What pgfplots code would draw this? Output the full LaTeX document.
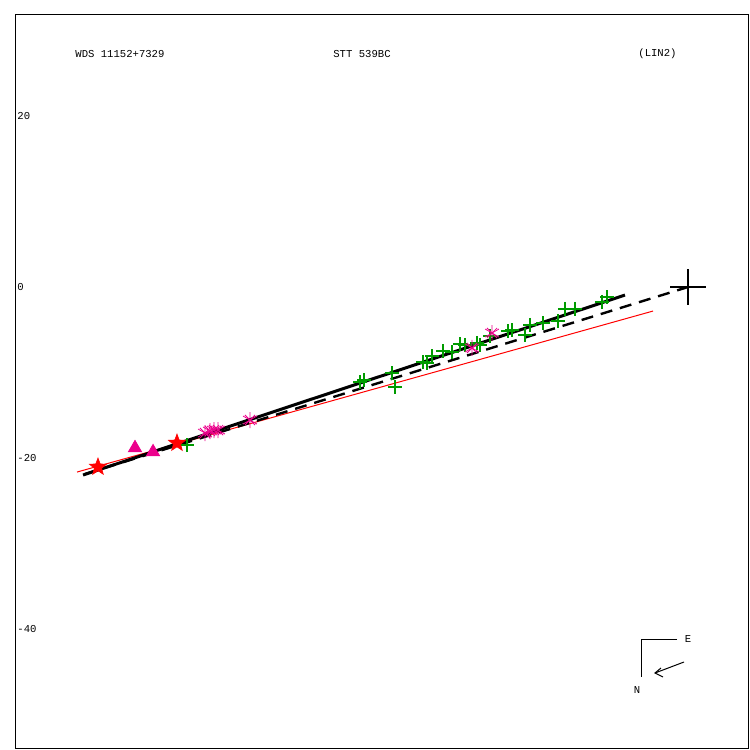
\documentclass[border=0pt]{standalone}
\usepackage{pgfplots}
\pgfplotsset{compat=1.18}
\usepackage{fontspec}
\setmonofont{Liberation Mono}
\newcommand{\lbl}{\ttfamily\fontsize{5.3}{6}\selectfont}
\definecolor{mygreen}{RGB}{0,155,0}
\pgfdeclareplotmark{fstar}{%
  \pgfpathmoveto{\pgfpointpolar{90}{\pgfplotmarksize}}%
  \pgfpathlineto{\pgfpointpolar{126}{0.42\pgfplotmarksize}}%
  \pgfpathlineto{\pgfpointpolar{162}{\pgfplotmarksize}}%
  \pgfpathlineto{\pgfpointpolar{198}{0.42\pgfplotmarksize}}%
  \pgfpathlineto{\pgfpointpolar{234}{\pgfplotmarksize}}%
  \pgfpathlineto{\pgfpointpolar{270}{0.42\pgfplotmarksize}}%
  \pgfpathlineto{\pgfpointpolar{306}{\pgfplotmarksize}}%
  \pgfpathlineto{\pgfpointpolar{342}{0.42\pgfplotmarksize}}%
  \pgfpathlineto{\pgfpointpolar{18}{\pgfplotmarksize}}%
  \pgfpathlineto{\pgfpointpolar{54}{0.42\pgfplotmarksize}}%
  \pgfpathclose
  \pgfusepathqfillstroke}
\begin{document}
\begin{tikzpicture}
\begin{axis}[x=4.275pt, y=4.275pt, scale only axis,
  xmin=-78.71, xmax=7.13, ymin=-53.92, ymax=31.93,
  xtick=\empty, ytick=\empty, axis line style={line width=0.5pt}, clip=false]
\path (axis cs:-80.47,-54.15) rectangle (axis cs:7.25,33.57);
\coordinate (TL) at (axis cs:-80.4678,33.567);
% red fit line
\addplot[red, line width=0.5pt] coordinates {(-71.46,-21.64) (-4.09,-2.81)};
% dashed line
\addplot[black, line width=1.2pt, dash pattern=on 6pt off 4pt] coordinates {(-70.53,-21.87) (0,0)};
% solid line
\addplot[black, line width=1.5pt] coordinates {(-70.76,-21.99) (-7.37,-0.94)};
% green pluses
\addplot[only marks, mark=+, mark size=3.5pt, mygreen, mark options={line width=0.6pt}] coordinates {
(-58.60,-18.48) (-38.36,-11.11) (-37.89,-10.88) (-34.62,-10.06) (-34.27,-11.70)
(-30.99,-8.77) (-30.53,-8.89) (-29.94,-8.07) (-28.65,-7.49) (-27.60,-7.60)
(-26.67,-6.67) (-26.08,-6.78) (-24.68,-6.55) (-24.33,-6.78) (-23.16,-5.73)
(-21.05,-5.15) (-20.58,-5.03) (-19.06,-5.61) (-18.48,-4.44) (-16.96,-4.21)
(-15.20,-3.98) (-14.39,-2.57) (-13.22,-2.57) (-10.06,-1.75) (-9.47,-1.17)};
% magenta asterisks
\addplot[only marks, mark=asterisk, mark size=4pt, magenta, mark options={line width=0.4pt}] coordinates {
(-56.49,-17.08) (-55.91,-16.84) (-55.44,-16.73) (-54.97,-16.73) (-51.23,-15.56) (-25.26,-7.13) (-22.92,-5.38)};
\addplot[only marks, mark=x, mark size=3.6pt, magenta, mark options={line width=0.4pt}] coordinates {
(-56.49,-17.08) (-55.91,-16.84) (-55.44,-16.73) (-54.97,-16.73) (-51.23,-15.56) (-25.26,-7.13) (-22.92,-5.38)};
% magenta triangles
\addplot[only marks, mark=triangle*, mark size=3.8pt, magenta, mark options={fill=magenta}] coordinates {
(-64.68,-18.83) (-62.57,-19.30)};
% red stars
\addplot[only marks, mark=fstar, mark size=4.5pt, red, mark options={fill=red, line width=0.3pt}] coordinates {
(-69.01,-21.05) (-59.77,-18.25)};
% big cross
\addplot[only marks, mark=+, mark size=9pt, black, mark options={line width=1pt}] coordinates {(0,0)};
\end{axis}
\begin{scope}[shift={(TL)}, x=0.5pt, y=-0.5pt]
\node[anchor=west, inner sep=0] at (75,54) {\lbl WDS 11152+7329};
\node[inner sep=0] at (362,54) {\lbl STT 539BC};
\node[anchor=west, inner sep=0] at (638,54) {\lbl (LIN2)};
\node[anchor=west, inner sep=0] at (17,116) {\lbl 20};
\node[anchor=west, inner sep=0] at (17,287) {\lbl 0};
\node[anchor=west, inner sep=0] at (17,458) {\lbl -20};
\node[anchor=west, inner sep=0] at (17,629) {\lbl -40};
\draw[line width=0.5pt] (677,639) -- (641,639) -- (641,677);
\node[inner sep=0] at (688,639) {\lbl E};
\node[inner sep=0] at (637,690) {\lbl N};
\draw[line width=0.5pt] (684,662) -- (655,673);
\draw[line width=0.5pt] (661,668) -- (655,673) -- (663,677);
\end{scope}
\end{tikzpicture}
\end{document}
